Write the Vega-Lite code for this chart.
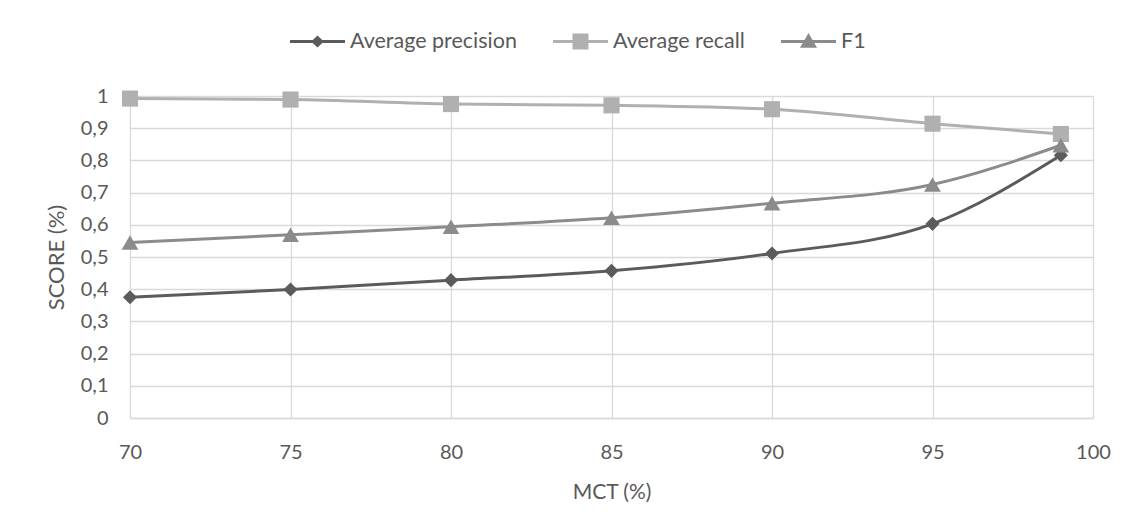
{
  "$schema": "https://vega.github.io/schema/vega-lite/v6.json",
  "autosize": {"type": "none"},
  "padding": {"left": 130, "top": 96, "right": 41, "bottom": 112},
  "width": 963,
  "height": 322,
  "background": "white",
  "data": {
    "values": [
      {"mct": 70, "series": "Average precision", "score": 0.375},
      {"mct": 75, "series": "Average precision", "score": 0.399},
      {"mct": 80, "series": "Average precision", "score": 0.428},
      {"mct": 85, "series": "Average precision", "score": 0.457},
      {"mct": 90, "series": "Average precision", "score": 0.511},
      {"mct": 95, "series": "Average precision", "score": 0.603},
      {"mct": 99, "series": "Average precision", "score": 0.816},
      {"mct": 70, "series": "Average recall", "score": 0.992},
      {"mct": 75, "series": "Average recall", "score": 0.989},
      {"mct": 80, "series": "Average recall", "score": 0.975},
      {"mct": 85, "series": "Average recall", "score": 0.971},
      {"mct": 90, "series": "Average recall", "score": 0.959},
      {"mct": 95, "series": "Average recall", "score": 0.914},
      {"mct": 99, "series": "Average recall", "score": 0.882},
      {"mct": 70, "series": "F1", "score": 0.545},
      {"mct": 75, "series": "F1", "score": 0.569},
      {"mct": 80, "series": "F1", "score": 0.594},
      {"mct": 85, "series": "F1", "score": 0.622},
      {"mct": 90, "series": "F1", "score": 0.667},
      {"mct": 95, "series": "F1", "score": 0.725},
      {"mct": 99, "series": "F1", "score": 0.847}
    ]
  },
  "encoding": {
    "x": {
      "field": "mct", "type": "quantitative",
      "scale": {"domain": [70, 100], "nice": false, "zero": false},
      "axis": {"values": [70, 75, 80, 85, 90, 95, 100], "title": "MCT (%)", "grid": true, "ticks": false, "labelFlush": false, "labelPadding": 24, "titlePadding": 19}
    },
    "y": {
      "field": "score", "type": "quantitative",
      "scale": {"domain": [0, 1], "nice": false},
      "axis": {"values": [0, 0.1, 0.2, 0.3, 0.4, 0.5, 0.6, 0.7, 0.8, 0.9, 1], "format": ".1~f", "labelExpr": "replace(datum.label, '.', ',')", "title": "SCORE (%)", "titleFontSize": 22, "grid": true, "ticks": false, "domain": false, "labelPadding": 22, "titlePadding": 12}
    },
    "color": {
      "field": "series", "type": "nominal",
      "scale": {"domain": ["Average precision", "Average recall", "F1"], "range": ["#5B5B5B", "#B0B0B0", "#8B8B8B"]},
      "legend": {
        "title": null,
        "orient": "none",
        "legendX": 160,
        "legendY": -82,
        "direction": "horizontal",
        "symbolSize": 3025,
        "labelOffset": 5,
        "columnPadding": 36,
        "encode": {
          "symbols": {
            "update": {
              "shape": {"signal": "datum.value === 'Average precision' ? 'M-1,-0.055H1V0.055H-1Z M0,-0.22L0.23,0L0,0.22L-0.23,0Z' : datum.value === 'Average recall' ? 'M-1,-0.055H1V0.055H-1Z M-0.29,-0.29H0.29V0.29H-0.29Z' : 'M-1,-0.055H1V0.055H-1Z M0,-0.31L0.31,0.23H-0.31Z'"},
              "fill": {"signal": "datum.value === 'Average precision' ? '#5B5B5B' : datum.value === 'Average recall' ? '#B0B0B0' : '#8B8B8B'"},
              "stroke": {"value": "transparent"},
              "strokeWidth": {"value": 0},
              "opacity": {"value": 1},
              "fillOpacity": {"value": 1}
            }
          }
        }
      }
    }
  },
  "layer": [
    {
      "mark": {"type": "line", "strokeWidth": 3, "interpolate": "monotone"}
    },
    {
      "transform": [{"filter": "datum.series === 'Average precision'"}],
      "mark": {"type": "point", "filled": true, "opacity": 1, "size": 200, "shape": "diamond"}
    },
    {
      "transform": [{"filter": "datum.series === 'Average recall'"}],
      "mark": {"type": "point", "filled": true, "opacity": 1, "size": 260, "shape": "square"}
    },
    {
      "transform": [{"filter": "datum.series === 'F1'"}],
      "mark": {"type": "point", "filled": true, "opacity": 1, "size": 280, "shape": "triangle-up"}
    }
  ],
  "config": {
    "font": "Lato",
    "view": {"stroke": null},
    "axis": {
      "labelFont": "Lato", "labelFontSize": 20, "labelColor": "#595959",
      "titleFont": "Lato", "titleFontSize": 21, "titleColor": "#595959", "titleFontWeight": "normal",
      "gridColor": "#D9D9D9", "gridWidth": 1.3, "domainColor": "#D9D9D9", "domainWidth": 1.3
    },
    "legend": {"labelFont": "Lato", "labelFontSize": 21.5, "labelColor": "#595959", "labelLimit": 400}
  }
}
